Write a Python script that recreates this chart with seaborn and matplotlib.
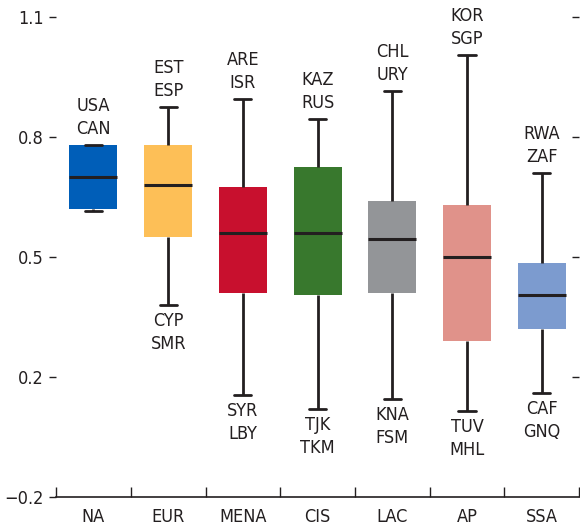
import matplotlib
matplotlib.use("Agg")
import matplotlib.pyplot as plt
import seaborn as sns
import pandas as pd
from matplotlib.ticker import FixedLocator, FixedFormatter

# values
regions = ['NA', 'EUR', 'MENA', 'CIS', 'LAC', 'AP', 'SSA']
whisker_low = [0.615, 0.38, 0.155, 0.12, 0.145, 0.115, 0.16]
q1 = [0.62, 0.55, 0.41, 0.405, 0.41, 0.29, 0.32]
median = [0.70, 0.68, 0.56, 0.56, 0.545, 0.50, 0.405]
q3 = [0.78, 0.78, 0.675, 0.725, 0.64, 0.63, 0.485]
whisker_high = [0.78, 0.875, 0.895, 0.845, 0.915, 1.005, 0.71]
top_labels = ['USA\nCAN', 'EST\nESP', 'ARE\nISR', 'KAZ\nRUS', 'CHL\nURY', 'KOR\nSGP', 'RWA\nZAF']
bottom_labels = ['', 'CYP\nSMR', 'SYR\nLBY', 'TJK\nTKM', 'KNA\nFSM', 'TUV\nMHL', 'CAF\nGNQ']
colors = ['#005EB8', '#FDBF57', '#C8102E', '#38782D', '#939598', '#E0928A', '#7C9BCF']

# y ticks as printed on the chart (evenly spaced)
ytick_pos = [-0.1, 0.2, 0.5, 0.8, 1.1]
ytick_text = ['\u22120.2', '0.2', '0.5', '0.8', '1.1']

rows = []
for i, r in enumerate(regions):
    for v in (whisker_low[i], q1[i], median[i], q3[i], whisker_high[i]):
        rows.append({'region': r, 'value': v})
df = pd.DataFrame(rows)

sns.set_style('white')
plt.rcParams['font.family'] = ['DejaVu Sans']
plt.rcParams['font.stretch'] = 'condensed'
dark = '#231F20'

fig = plt.figure(figsize=(5.8, 5.27), dpi=100)
ax = fig.add_axes([0.0966, 0.0569, 0.902, 0.9108])

sns.boxplot(data=df, x='region', y='value', hue='region', palette=colors,
            order=regions, whis=(0, 100), width=0.64, linecolor=dark,
            linewidth=2, saturation=1, boxprops=dict(linewidth=0),
            medianprops=dict(linewidth=2.2), capwidths=0.23,
            legend=False, ax=ax)

txt = dict(fontsize=13, color=dark, ha='center', linespacing=1.35)
for i in range(len(regions)):
    ax.annotate(top_labels[i], (i, whisker_high[i]), xytext=(0, 5),
                textcoords='offset points', va='bottom', **txt)
    if bottom_labels[i]:
        ax.annotate(bottom_labels[i], (i, whisker_low[i]), xytext=(0, -5),
                    textcoords='offset points', va='top', **txt)

ax.set_xlim(-0.5, len(regions) - 0.5)
ax.set_ylim(-0.1, 1.1)
ax.yaxis.set_major_locator(FixedLocator(ytick_pos))
ax.yaxis.set_major_formatter(FixedFormatter(ytick_text))
ax.set_xlabel('')
ax.set_ylabel('')

for s in ['top', 'left', 'right']:
    ax.spines[s].set_visible(False)
ax.spines['bottom'].set_color(dark)
ax.spines['bottom'].set_linewidth(1.2)

# left ticks point out next to labels, right ticks point into the plot
ax.tick_params(axis='y', which='major', left=True, right=False, direction='out',
               length=5, width=1, color=dark, labelsize=13, labelcolor=dark, pad=4)
ax.set_xticks(range(len(regions)))
ax.set_xticklabels(regions)
ax.tick_params(axis='x', which='major', bottom=True, length=0, labelsize=13,
               labelcolor=dark, pad=8)
ax.set_xticks([i - 0.5 for i in range(len(regions) + 1)], minor=True)
ax.tick_params(axis='x', which='minor', bottom=True, direction='in', length=7,
               width=1, color=dark)

rax = ax.twinx()
rax.set_ylim(ax.get_ylim())
rax.yaxis.set_major_locator(FixedLocator(ytick_pos[1:]))
rax.tick_params(axis='y', right=True, direction='in', length=5, width=1,
                color=dark, labelright=False)
for s in rax.spines.values():
    s.set_visible(False)

fig.savefig('out.png', dpi=100)
